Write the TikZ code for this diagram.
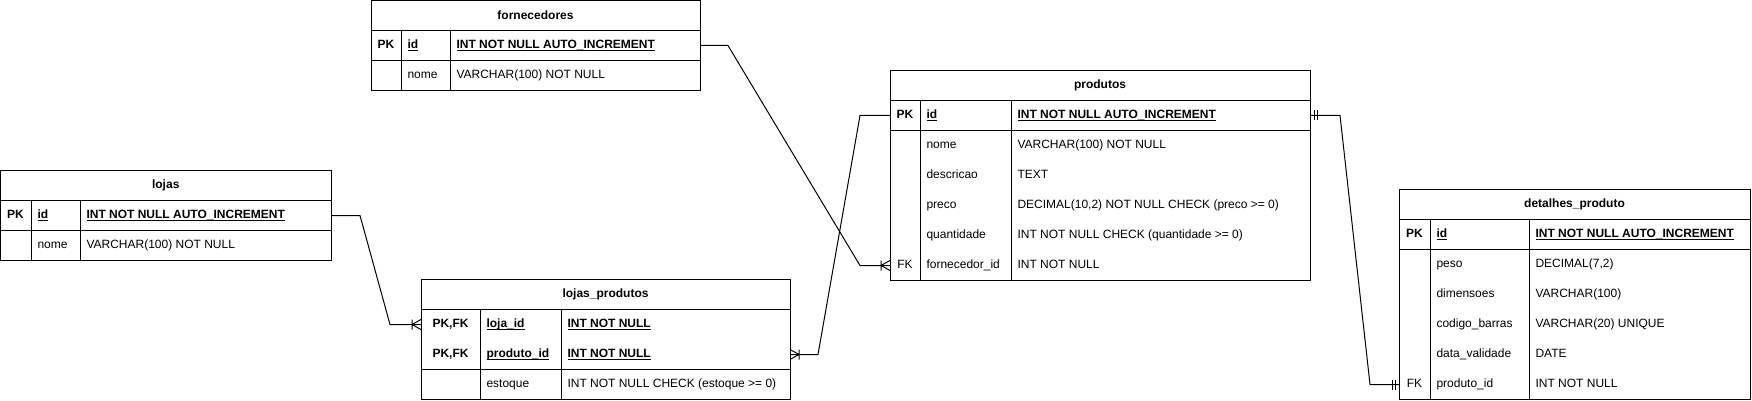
\documentclass[tikz,border=0pt]{standalone}
\usepackage{fontspec}
\setmainfont{Liberation Sans}
\usetikzlibrary{positioning}

\newcommand\keyline[1]{\setbox0\hbox{#1}\rlap{\rule[-2.5pt]{\wd0}{1pt}}\box0}

\tikzset{
	tabhead/.style={draw,anchor=north west,minimum height=30pt,inner sep=0pt,outer sep=0pt,font=\fontsize{12}{14}\selectfont\bfseries},
	rowbox/.style={minimum height=30pt,inner sep=0pt,outer sep=0pt},
	keytxt/.style={inner sep=0pt,text height=9pt,text depth=3pt},
	coltxt/.style={anchor=west,inner sep=0pt,text height=9pt,text depth=3pt},
	crow/.pic={\draw (0,-5) -- (-9,0) -- (0,5) (-9,-5) -- (-9,5);},
	onlyone/.pic={\draw (-4,-5) -- (-4,5) (-7,-5) -- (-7,5);}
}

\begin{document}
\begin{tikzpicture}[x=1pt,y=-1pt,line width=1pt,font=\fontsize{12}{14}\selectfont]
	\useasboundingbox (0,0) rectangle (1752,401);

	% fornecedores
	\node[tabhead,minimum width=329pt] (forn) at (371,0.5) {fornecedores};
	\draw (forn.south west) rectangle ++(329,60);
	\draw ([yshift=-30pt]forn.south west) -- ++(329,0);
	\foreach \c in {30,79}
		\draw ([xshift=\c pt]forn.south west) -- ++(0,60);
	\foreach \k/\n/\t [count=\i] in {{\bfseries PK}/{\bfseries\keyline{id}}/{\bfseries\keyline{INT NOT NULL AUTO\_INCREMENT}},
			/nome/VARCHAR(100) NOT NULL}{
		\pgfmathsetmacro\dy{30*(\i-1)}
		\node[rowbox,minimum width=329pt,below=\dy pt of forn] (forn-\i) {};
		\node[keytxt] at ([xshift=15pt]forn-\i.west) {\k};
		\node[coltxt] at ([xshift=36pt]forn-\i.west) {\n};
		\node[coltxt] at ([xshift=85pt]forn-\i.west) {\t};
	}

	% lojas
	\node[tabhead,minimum width=330.5pt] (loja) at (0.5,170.5) {lojas};
	\draw (loja.south west) rectangle ++(330.5,60);
	\draw ([yshift=-30pt]loja.south west) -- ++(330.5,0);
	\foreach \c in {30.5,79.5}
		\draw ([xshift=\c pt]loja.south west) -- ++(0,60);
	\foreach \k/\n/\t [count=\i] in {{\bfseries PK}/{\bfseries\keyline{id}}/{\bfseries\keyline{INT NOT NULL AUTO\_INCREMENT}},
			/nome/VARCHAR(100) NOT NULL}{
		\pgfmathsetmacro\dy{30*(\i-1)}
		\node[rowbox,minimum width=330.5pt,below=\dy pt of loja] (loja-\i) {};
		\node[keytxt] at ([xshift=15pt]loja-\i.west) {\k};
		\node[coltxt] at ([xshift=36.5pt]loja-\i.west) {\n};
		\node[coltxt] at ([xshift=85.5pt]loja-\i.west) {\t};
	}

	% lojas_produtos
	\node[tabhead,minimum width=369pt] (lp) at (421,279.5) {lojas\_produtos};
	\draw (lp.south west) rectangle ++(369,90);
	\draw ([yshift=-60pt]lp.south west) -- ++(369,0);
	\foreach \c in {59,140}
		\draw ([xshift=\c pt]lp.south west) -- ++(0,90);
	\foreach \k/\n/\t [count=\i] in {{\bfseries PK,FK}/{\bfseries\keyline{loja\_id}}/{\bfseries\keyline{INT NOT NULL}},
			{\bfseries PK,FK}/{\bfseries\keyline{produto\_id}}/{\bfseries\keyline{INT NOT NULL}},
			/estoque/INT NOT NULL CHECK (estoque >= 0)}{
		\pgfmathsetmacro\dy{30*(\i-1)}
		\node[rowbox,minimum width=369pt,below=\dy pt of lp] (lp-\i) {};
		\node[keytxt] at ([xshift=29.5pt]lp-\i.west) {\k};
		\node[coltxt] at ([xshift=65pt]lp-\i.west) {\n};
		\node[coltxt] at ([xshift=146pt]lp-\i.west) {\t};
	}

	% produtos
	\node[tabhead,minimum width=420pt] (prod) at (890,70.5) {produtos};
	\draw (prod.south west) rectangle ++(420,180);
	\draw ([yshift=-30pt]prod.south west) -- ++(420,0);
	\foreach \c in {30,121}
		\draw ([xshift=\c pt]prod.south west) -- ++(0,180);
	\foreach \k/\n/\t [count=\i] in {{\bfseries PK}/{\bfseries\keyline{id}}/{\bfseries\keyline{INT NOT NULL AUTO\_INCREMENT}},
			/nome/VARCHAR(100) NOT NULL,
			/descricao/TEXT,
			/preco/{DECIMAL(10,2) NOT NULL CHECK (preco >= 0)},
			/quantidade/INT NOT NULL CHECK (quantidade >= 0),
			FK/fornecedor\_id/INT NOT NULL}{
		\pgfmathsetmacro\dy{30*(\i-1)}
		\node[rowbox,minimum width=420pt,below=\dy pt of prod] (prod-\i) {};
		\node[keytxt] at ([xshift=15pt]prod-\i.west) {\k};
		\node[coltxt] at ([xshift=36pt]prod-\i.west) {\n};
		\node[coltxt] at ([xshift=127pt]prod-\i.west) {\t};
	}

	% detalhes_produto
	\node[tabhead,minimum width=351pt] (det) at (1399,189.5) {detalhes\_produto};
	\draw (det.south west) rectangle ++(351,180);
	\draw ([yshift=-30pt]det.south west) -- ++(351,0);
	\foreach \c in {31,130}
		\draw ([xshift=\c pt]det.south west) -- ++(0,180);
	\foreach \k/\n/\t [count=\i] in {{\bfseries PK}/{\bfseries\keyline{id}}/{\bfseries\keyline{INT NOT NULL AUTO\_INCREMENT}},
			/peso/{DECIMAL(7,2)},
			/dimensoes/VARCHAR(100),
			/codigo\_barras/VARCHAR(20) UNIQUE,
			/data\_validade/DATE,
			FK/produto\_id/INT NOT NULL}{
		\pgfmathsetmacro\dy{30*(\i-1)}
		\node[rowbox,minimum width=351pt,below=\dy pt of det] (det-\i) {};
		\node[keytxt] at ([xshift=15.5pt]det-\i.west) {\k};
		\node[coltxt] at ([xshift=37pt]det-\i.west) {\n};
		\node[coltxt] at ([xshift=136pt]det-\i.west) {\t};
	}

	% relations
	\draw (forn-1.east) -- ++(28,0) -- ([xshift=-30pt]prod-6.west) -- (prod-6.west);
	\draw (loja-1.east) -- ++(29,0) -- ([xshift=-31pt]lp-1.west) -- (lp-1.west);
	\draw (lp-2.east) -- ++(28,0) -- ([xshift=-30pt]prod-1.west) -- (prod-1.west);
	\draw (prod-1.east) -- ++(30,0) -- ([xshift=-29pt]det-6.west) -- (det-6.west);
	\pic at (prod-6.west) {crow};
	\pic at (lp-1.west) {crow};
	\pic[xscale=-1] at (lp-2.east) {crow};
	\pic[xscale=-1] at (prod-1.east) {onlyone};
	\pic at (det-6.west) {onlyone};
\end{tikzpicture}
\end{document}
